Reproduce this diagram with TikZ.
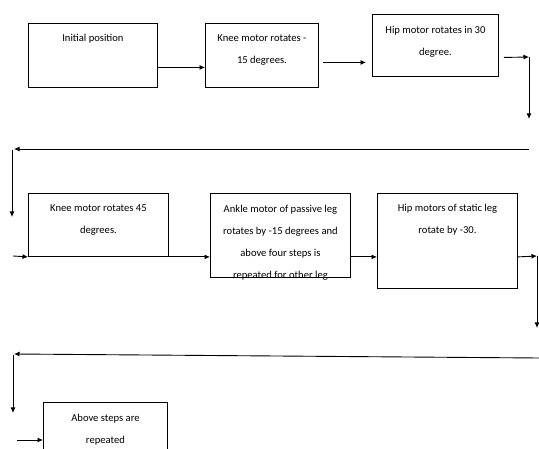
\documentclass[tikz,border=0pt]{standalone}
\usepackage{fontspec}
\setmainfont{Carlito}
\usetikzlibrary{positioning,arrows.meta}

\begin{document}
\begin{tikzpicture}[x=1pt, y=-1pt, line width=0.9pt]
    \tikzstyle{box_style} = [draw=black, rectangle, anchor=north west, inner sep=0pt]
    \tikzstyle{text_style} = [align=center, inner sep=0pt, text=black, font=\fontsize{10.6}{22}\selectfont]
    \tikzstyle{arrow_style} = [draw=black, -{Latex[length=5.5pt,width=5pt]}]
    \clip (0,0) rectangle (539,449);
    \fill[white] (0,0) rectangle (539,449);

    % boxes
    \node[box_style, minimum width=129pt, minimum height=64pt] (b1) at (28,23) {};
    \node[box_style, minimum width=113pt, minimum height=64pt] (b2) at (205,23) {};
    \node[box_style, minimum width=126pt, minimum height=62pt] (b3) at (372,14) {};
    \node[box_style, minimum width=140pt, minimum height=63pt] (b4) at (28,193) {};
    \node[box_style, minimum width=140pt, minimum height=84pt] (b5) at (210,193) {};
    \node[box_style, minimum width=140pt, minimum height=95pt] (b6) at (377,193) {};
    \node[box_style, minimum width=124pt, minimum height=60pt] (b7) at (43,402) {};

    % texts
    \node[text_style, below=11pt of b1.north] (t1) {Initial position};
    \node[text_style, below=11pt of b2.north] (t2) {Knee motor rotates -\\15 degrees.};
    \node[text_style, below=12pt of b3.north] (t3) {Hip motor rotates in 30\\degree.};
    \node[text_style, below=11pt of b4.north] (t4) {Knee motor rotates 45\\degrees.};
    \node[text_style, below=12pt of b5.north] (t5) {Ankle motor of passive leg\\rotates by -15 degrees and\\above four steps is\\repeated for other leg};
    \node[text_style, below=11pt of b6.north] (t6) {Hip motors of static leg\\rotate by -30.};
    \node[text_style, below=11.5pt of b7.north] (t7) {Above steps are\\repeated};

    % turning points
    \coordinate (r1a) at (529,57);
    \coordinate (r1b) at (529,119);
    \coordinate (r1c) at (529,149);
    \coordinate (r1d) at (14,149);
    \coordinate (r1e) at (12,150);
    \coordinate (r1f) at (12,217);
    \coordinate (in4) at (13,256);
    \coordinate (r2a) at (537,256);
    \coordinate (r2b) at (537,328);
    \coordinate (r2c) at (539,358);
    \coordinate (r2d) at (14,354);
    \coordinate (r2e) at (13,355);
    \coordinate (r2f) at (13,413);
    \coordinate (in7) at (17,440);

    % first row
    \draw[arrow_style] ([yshift=-12pt]b1.east) -- ([yshift=-12pt]b2.west);
    \draw[arrow_style] ([xshift=4pt,yshift=-7pt]b2.east) -- ([xshift=-6pt,yshift=-17pt]b3.west);
    \draw[arrow_style] ([xshift=5pt,yshift=-12pt]b3.east) -- (r1a);
    \draw[arrow_style] (r1a) -- (r1b);
    \draw[arrow_style] (r1c) -- (r1d);
    \draw[arrow_style] (r1e) -- (r1f);

    % second row
    \draw[arrow_style] (in4) -- (b4.south west);
    \draw[arrow_style] (b4.south east) -- (b5.west |- b4.south);
    \draw[arrow_style] (b5.east |- b4.south) -- (b6.west |- b4.south);
    \draw[arrow_style] (b6.east |- b4.south) -- (r2a);
    \draw[arrow_style] (r2a) -- (r2b);
    \draw[arrow_style] (r2c) -- (r2d);
    \draw[arrow_style] (r2e) -- (r2f);

    % last box
    \draw[arrow_style] (in7) -- (b7.west |- in7);
\end{tikzpicture}
\end{document}
